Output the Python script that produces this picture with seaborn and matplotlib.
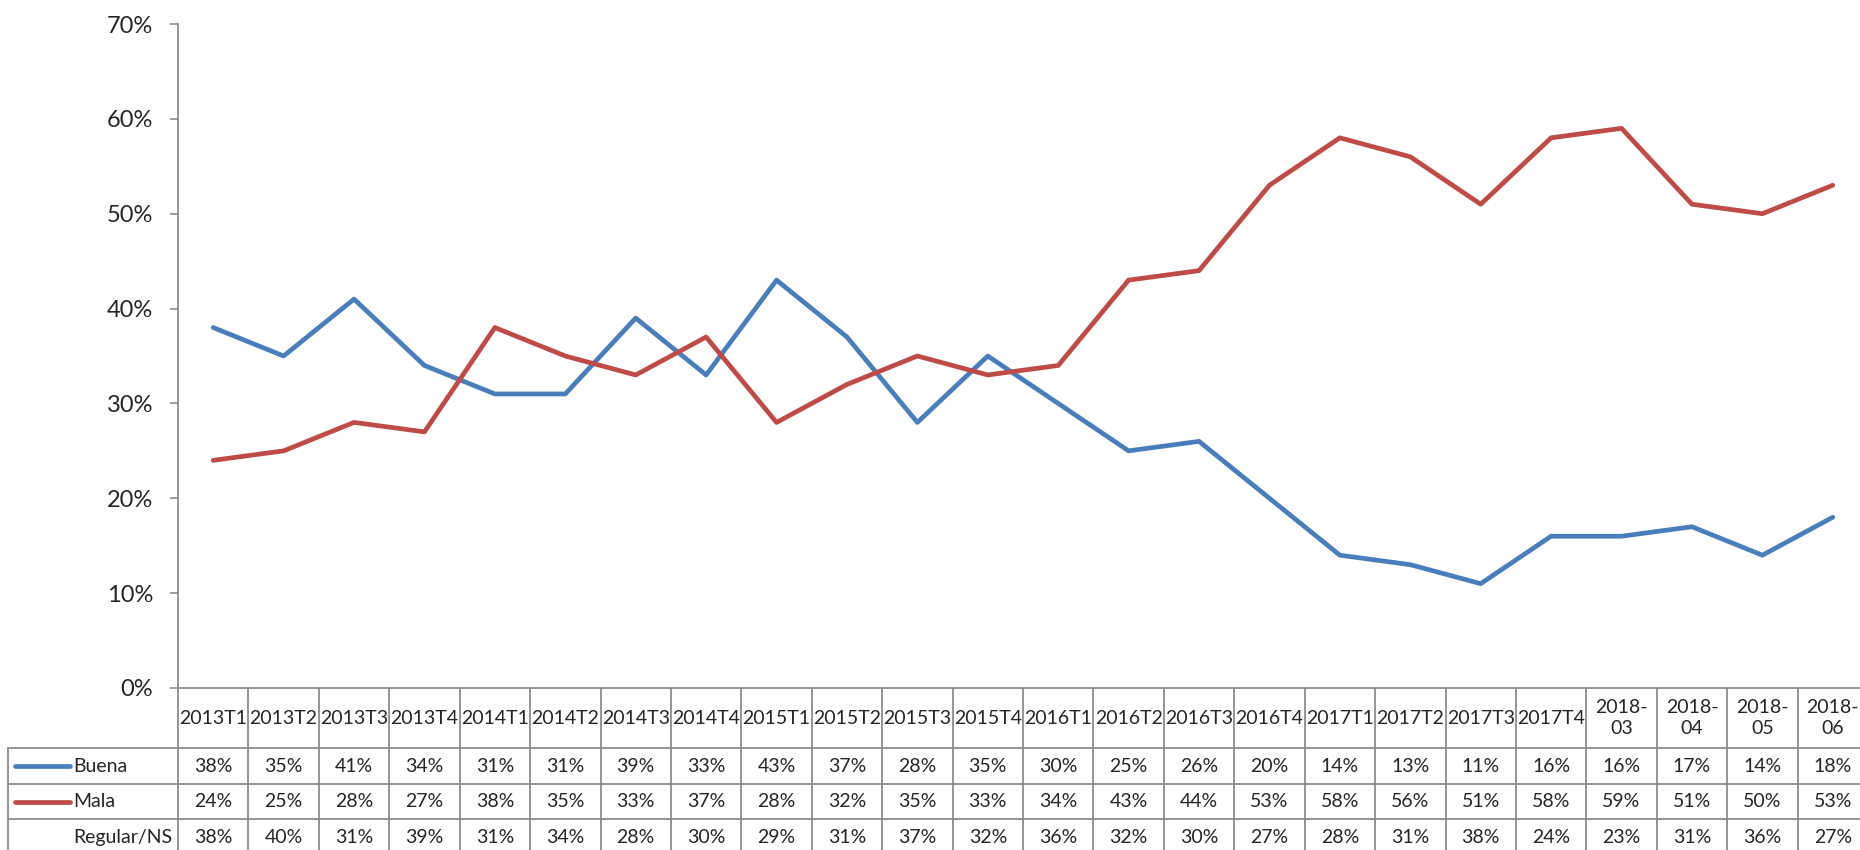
import pandas as pd
import matplotlib
matplotlib.use('Agg')
import matplotlib.pyplot as plt
import matplotlib.transforms as mtransforms
from matplotlib.ticker import PercentFormatter
import seaborn as sns

# datos
periodos = ['2013T1', '2013T2', '2013T3', '2013T4', '2014T1', '2014T2', '2014T3', '2014T4',
            '2015T1', '2015T2', '2015T3', '2015T4', '2016T1', '2016T2', '2016T3', '2016T4',
            '2017T1', '2017T2', '2017T3', '2017T4', '2018-\n03', '2018-\n04', '2018-\n05', '2018-\n06']
buena = [38, 35, 41, 34, 31, 31, 39, 33, 43, 37, 28, 35, 30, 25, 26, 20, 14, 13, 11, 16, 16, 17, 14, 18]
mala = [24, 25, 28, 27, 38, 35, 33, 37, 28, 32, 35, 33, 34, 43, 44, 53, 58, 56, 51, 58, 59, 51, 50, 53]
regular = [38, 40, 31, 39, 31, 34, 28, 30, 29, 31, 37, 32, 36, 32, 30, 27, 28, 31, 38, 24, 23, 31, 36, 27]

series = {'Buena': buena, 'Mala': mala, 'Regular/NS': regular}
colores = {'Buena': '#4a7ebb', 'Mala': '#be4b48'}

df = pd.DataFrame({
    'pos': list(range(len(periodos))) * 2,
    'valor': [v / 100 for v in buena + mala],
    'serie': ['Buena'] * len(buena) + ['Mala'] * len(mala),
})

sns.set_style('white')
plt.rcParams['font.family'] = ['Lato', 'DejaVu Sans']

W, H = 1860, 850
fig = plt.figure(figsize=(W / 100, H / 100), dpi=100)
x0, x1, y0, y1 = 178, 1868, 688, 24
ax = fig.add_axes([x0 / W, (H - y0) / H, (x1 - x0) / W, (y0 - y1) / H])

sns.lineplot(data=df, x='pos', y='valor', hue='serie', palette=colores, linewidth=3.4,
             solid_capstyle='round', legend=False, ax=ax)

gris = '#8c8c8c'
ax.set_xlim(-0.5, len(periodos) - 0.5)
ax.set_ylim(0, 0.7)
ax.set_yticks([i / 10 for i in range(8)])
ax.yaxis.set_major_formatter(PercentFormatter(1.0, decimals=0))
ax.set_xticks([])
ax.set_xlabel('')
ax.set_ylabel('')
ax.tick_params(axis='y', length=6, width=1.2, color=gris, pad=12, labelsize=17, left=True)
for s in ['top', 'right']:
    ax.spines[s].set_visible(False)
for s in ['left', 'bottom']:
    ax.spines[s].set_color(gris)
    ax.spines[s].set_linewidth(1.3)

# tabla de datos debajo del grafico
alto = y0 - y1
def fy(py):
    return (y0 - py) / alto

filas = [748, 784, 819, 856]
lab_x = (8 - x0) / (x1 - x0)
trans = mtransforms.blended_transform_factory(ax.transData, ax.transAxes)
kw = dict(color=gris, lw=1.3, clip_on=False)

for k in range(len(periodos) + 1):
    ax.plot([k - 0.5, k - 0.5], [0, fy(filas[-1])], transform=trans, **kw)
for py in filas[:-1]:
    ax.plot([lab_x, 1], [fy(py), fy(py)], transform=ax.transAxes, **kw)
ax.plot([lab_x, lab_x], [fy(filas[0]), fy(filas[-1])], transform=ax.transAxes, **kw)

fs = 14
for i, p in enumerate(periodos):
    ax.text(i, fy((y0 + filas[0]) / 2), p, transform=trans, ha='center', va='center',
            fontsize=fs, linespacing=1.25, clip_on=False)

for r, (nombre, vals) in enumerate(series.items()):
    yc = fy((filas[r] + filas[r + 1]) / 2)
    for i, v in enumerate(vals):
        ax.text(i, yc, f'{v}%', transform=trans, ha='center', va='center', fontsize=fs)
    if nombre in colores:
        ax.plot([(15 - x0) / (x1 - x0), (70 - x0) / (x1 - x0)], [yc, yc], transform=ax.transAxes,
                color=colores[nombre], lw=3.4, solid_capstyle='round', clip_on=False)
    ax.text((73 - x0) / (x1 - x0), yc, nombre, transform=ax.transAxes, ha='left', va='center',
            fontsize=fs)

fig.savefig('out.png', dpi=100)
